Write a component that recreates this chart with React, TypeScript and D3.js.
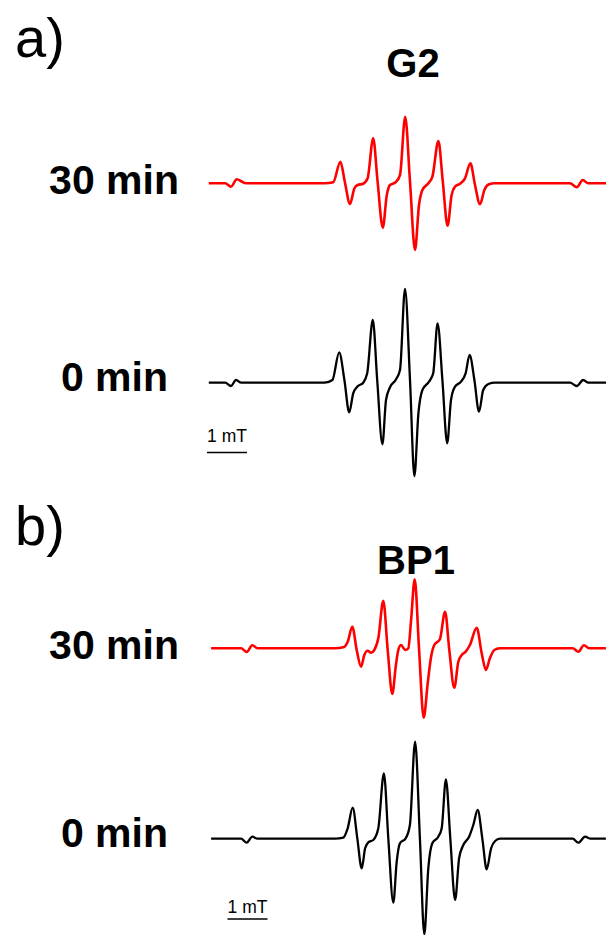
import React from "react";
import * as d3 from "d3";

type Pt = [number, number]; // [field offset (mT), intensity (a.u.)]

// G2, 30 min
const g2Min30: Pt[] = [
  [-5.03, 0], [-4.62, 0], [-4.475, -0.34], [-4.33, 0.4], [-4.2, 0.16], [-4.1, 0],
  [-2.13, 0], [-1.92, 0.1], [-1.74, 2.16], [-1.63, 0.16], [-1.5, -2.07], [-1.39, -0.5],
  [-1.31, -0.17], [-1.17, -0.04], [-1.06, 0.5], [-0.92, 4.5], [-0.81, 0.16], [-0.68, -4.44],
  [-0.58, -1.17], [-0.5, -0.17], [-0.36, 0.1], [-0.25, 0.83], [-0.12, 6.66], [0, 0.16],
  [0.125, -6.67], [0.225, -2.17], [0.31, -0.67], [0.46, 0], [0.56, 0.66], [0.71, 4.23],
  [0.82, 0.16], [0.94, -4.24], [1.04, -1.17], [1.125, -0.34], [1.25, -0.04], [1.375, 0.5],
  [1.51, 2.0], [1.625, -0.17], [1.75, -2.1], [1.86, -0.67], [1.975, -0.1], [2.125, 0],
  [4.0, 0], [4.17, -0.4], [4.32, 0.33], [4.45, 0], [4.9, 0],
];

// G2, 0 min
const g2Min0: Pt[] = [
  [-5.03, 0], [-4.62, 0], [-4.475, -0.33], [-4.35, 0.27], [-4.22, 0], [-2.13, 0],
  [-1.94, 0.27], [-1.77, 3.04], [-1.64, 0.27], [-1.52, -2.96], [-1.42, -1.06], [-1.32, -0.4],
  [-1.17, 0], [-1.07, 0.94], [-0.93, 6.27], [-0.82, 0.27], [-0.69, -6.16], [-0.6, -1.73],
  [-0.5, -0.46], [-0.36, 0.27], [-0.25, 1.27], [-0.125, 9.37], [0, 0.27], [0.11, -9.33],
  [0.21, -3.06], [0.31, -0.73], [0.475, 0.1], [0.58, 0.94], [0.69, 5.94], [0.81, 0.27],
  [0.93, -6.06], [1.025, -1.73], [1.125, -0.4], [1.275, 0.1], [1.39, 0.94], [1.49, 2.77],
  [1.61, 0.27], [1.725, -2.9], [1.83, -0.73], [1.96, -0.13], [2.125, 0],
  [4.0, 0], [4.17, -0.33], [4.33, 0.27], [4.46, 0], [4.9, 0],
];

// BP1, 30 min
const bp1Min30: Pt[] = [
  [-5.21, 0], [-4.46, 0], [-4.32, -0.37], [-4.18, 0.3], [-4.05, 0], [-2.11, 0],
  [-1.905, 0.1], [-1.795, 0.66], [-1.68, 2.16], [-1.57, -0.17], [-1.46, -1.84], [-1.38, -0.67],
  [-1.295, -0.24], [-1.21, -0.44], [-1.13, -0.17], [-1.03, 1.0], [-0.905, 4.76], [-0.795, -0.17],
  [-0.68, -4.57], [-0.595, -1.84], [-0.53, -0.17], [-0.46, 0.33], [-0.36, -0.17], [-0.28, 0],
  [-0.21, 2.83], [-0.12, 6.9], [-0.01, -0.17], [0.105, -6.94], [0.205, -3.5], [0.29, -0.84],
  [0.37, 0.33], [0.51, 0.9], [0.64, 3.66], [0.745, -0.17], [0.87, -3.94], [0.97, -1.34],
  [1.055, -0.67], [1.155, -0.34], [1.26, 0.33], [1.43, 2.06], [1.555, -0.5], [1.66, -2.17],
  [1.76, -1.0], [1.87, -0.17], [2.01, 0],
  [3.83, 0], [3.97, -0.34], [4.11, 0.3], [4.24, 0], [4.66, 0],
];

// BP1, 0 min
const bp1Min0: Pt[] = [
  [-5.21, 0], [-4.46, 0], [-4.32, -0.4], [-4.18, 0.2], [-4.05, 0], [-2.11, 0],
  [-1.905, 0.1], [-1.795, 1.04], [-1.67, 3.1], [-1.555, 0.04], [-1.445, -2.96], [-1.36, -0.96],
  [-1.28, -0.36], [-1.155, -0.13], [-1.03, 1.04], [-0.89, 6.54], [-0.78, 0.04], [-0.655, -6.4],
  [-0.57, -2.3], [-0.49, -0.46], [-0.345, 0.04], [-0.24, 1.37], [-0.11, 9.7], [0.01, 0.04],
  [0.12, -9.56], [0.22, -2.96], [0.32, -0.46], [0.47, 0.2], [0.555, 1.04], [0.66, 5.94],
  [0.77, 0.04], [0.89, -6.13], [0.99, -1.96], [1.095, -0.63], [1.24, 0.2], [1.345, 1.37],
  [1.455, 2.87], [1.57, 0.04], [1.68, -3.06], [1.79, -0.96], [1.89, -0.23], [2.01, 0],
  [3.83, 0], [3.97, -0.4], [4.14, 0.2], [4.28, 0], [4.66, 0],
];

const panelLetters = ["a)", "b)"];
const sampleNames = ["G2", "BP1"];
const timeLabels = ["30 min", "0 min"];
const scaleBarLabel = "1 mT";
const scaleBarLength = 1; // mT
const scaleBarStart = [-5.075, -4.8]; // mT, per panel

const FONT = "'Liberation Sans', Arial, Helvetica, sans-serif";
const PX_PER_MT = 40;
const PX_PER_UNIT = 10;

interface PanelCfg {
  letter: string;
  name: string;
  top: Pt[];
  bottom: Pt[];
  centerX: number;
  letterY: number;
  nameX: number;
  nameY: number;
  baseTop: number;
  baseBottom: number;
  barStart: number;
  barTextY: number;
  barY: number;
}

const panels: PanelCfg[] = [
  {
    letter: panelLetters[0], name: sampleNames[0], top: g2Min30, bottom: g2Min0,
    centerX: 410, letterY: 57, nameX: 413, nameY: 77,
    baseTop: 183.3, baseBottom: 382.7, barStart: scaleBarStart[0], barTextY: 442, barY: 452.5,
  },
  {
    letter: panelLetters[1], name: sampleNames[1], top: bp1Min30, bottom: bp1Min0,
    centerX: 419.5, letterY: 545, nameX: 416, nameY: 574,
    baseTop: 648.3, baseBottom: 838.7, barStart: scaleBarStart[1], barTextY: 912.5, barY: 919,
  },
];

function Panel({ p }: { p: PanelCfg }) {
  const x = d3
    .scaleLinear()
    .domain([-5, 5])
    .range([p.centerX - 5 * PX_PER_MT, p.centerX + 5 * PX_PER_MT]);
  const yFor = (base: number) =>
    d3.scaleLinear().domain([-10, 10]).range([base + 10 * PX_PER_UNIT, base - 10 * PX_PER_UNIT]);
  const yTop = yFor(p.baseTop);
  const yBot = yFor(p.baseBottom);
  const lineTop = d3.line<Pt>().x((d) => x(d[0])).y((d) => yTop(d[1])).curve(d3.curveMonotoneX);
  const lineBot = d3.line<Pt>().x((d) => x(d[0])).y((d) => yBot(d[1])).curve(d3.curveMonotoneX);
  const bx0 = x(p.barStart);
  const bx1 = x(p.barStart + scaleBarLength);
  return (
    <g>
      <text x={15} y={p.letterY} fontSize={56} fontFamily={FONT} fill="#000">
        {p.letter}
      </text>
      <text x={p.nameX} y={p.nameY} fontSize={40} fontWeight="bold" textAnchor="middle" fontFamily={FONT} fill="#000">
        {p.name}
      </text>
      <text x={179} y={p.baseTop + 11} fontSize={41} fontWeight="bold" textAnchor="end" fontFamily={FONT} fill="#000">
        {timeLabels[0]}
      </text>
      <text x={168} y={p.baseBottom + 8.5} fontSize={41} fontWeight="bold" textAnchor="end" fontFamily={FONT} fill="#000">
        {timeLabels[1]}
      </text>
      <path d={lineTop(p.top) || ""} fill="none" stroke="#ff0000" strokeWidth={2.6} strokeLinejoin="round" />
      <path d={lineBot(p.bottom) || ""} fill="none" stroke="#000" strokeWidth={2.3} strokeLinejoin="round" />
      <text x={(bx0 + bx1) / 2} y={p.barTextY} fontSize={17.5} textAnchor="middle" fontFamily={FONT} fill="#000">
        {scaleBarLabel}
      </text>
      <line x1={bx0} x2={bx1} y1={p.barY} y2={p.barY} stroke="#000" strokeWidth={1.6} />
    </g>
  );
}

export default function App() {
  return (
    <svg
      width={606}
      height={935}
      viewBox="0 0 606 935"
      style={{ position: "absolute", left: 0, top: 0, background: "#fff" }}
    >
      <rect width={606} height={935} fill="#fff" />
      {panels.map((p) => (
        <Panel key={p.name} p={p} />
      ))}
    </svg>
  );
}
